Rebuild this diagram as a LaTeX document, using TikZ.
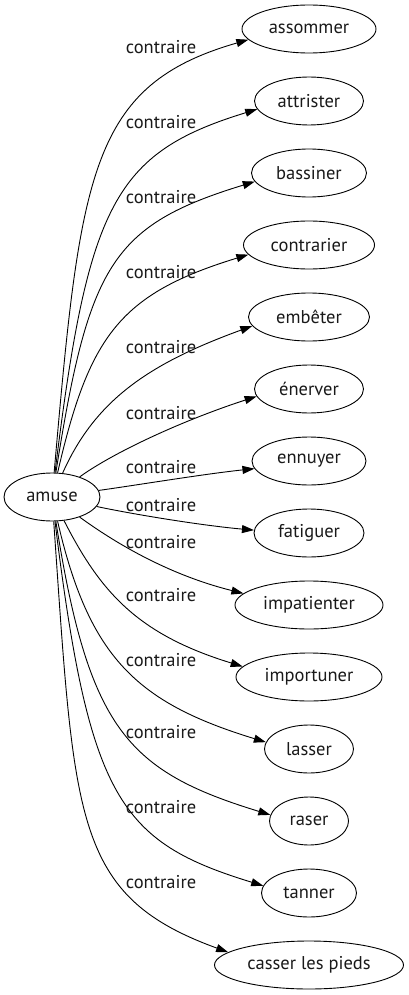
\documentclass[tikz,border=0pt]{standalone}
\usepackage{fontspec}
\setmainfont{PT Sans}
\usetikzlibrary{shapes.geometric,arrows.meta}

\begin{document}
\begin{tikzpicture}[x=1pt, y=1pt, font=\fontsize{18.5}{20}\selectfont,
  word/.style={draw, ellipse, line width=0.9pt, minimum height=48pt, inner sep=0pt, text=black!90},
  lbl/.style={inner sep=0pt, text=black!90},
  edge/.style={-{Triangle[length=12pt, width=8pt]}, line width=0.9pt}]
\useasboundingbox (0,0) rectangle (408,-995);
\node[word, minimum width=96pt] (amuse) at (52,-497) {amuse};
% targets: name/text/width/centre y
\foreach \n/\t/\w/\y in {assommer/assommer/134/29, attrister/attrister/109/101,
  bassiner/bassiner/115/173, contrarier/contrarier/131/245, embeter/embêter/121/317,
  enerver/énerver/109/389, ennuyer/ennuyer/114/461, fatiguer/fatiguer/110/533,
  impatienter/impatienter/148/605, importuner/importuner/146/677, lasser/lasser/89/749,
  raser/raser/79/821, tanner/tanner/95/893, casser/casser les pieds/189/965}
  \node[word, minimum width=\w pt] (\n) at (309,-\y) {\t};
% edges: name/label y/out/in/end anchor/out dist/in dist
\foreach \n/\ly/\o/\i/\e/\od/\id in {assommer/47/85/196/190/300/165,
  attrister/122/83/197/189/270/150, bassiner/197/81/197/189/210/150,
  contrarier/272/77/197/189/140/135, embeter/347/66/200/189/80/110,
  enerver/413/36/198/188/40/80, ennuyer/467/8/186/188/40/50,
  fatiguer/505/-12/175/177/40/50, impatienter/542/-36/166/170/40/80,
  importuner/595/-63/163/171/80/110, lasser/660/-77/163/171/140/135,
  raser/732/-81/163/171/210/150, tanner/807/-83/163/171/280/150,
  casser/882/-86/160/171/300/165} {
  \draw[edge] (amuse.\o) to[out=\o, in=\i, out distance=\od pt, in distance=\id pt] (\n.\e);
  \node[lbl] (l-\n) at (161,-\ly) {contraire};
}
\end{tikzpicture}
\end{document}
